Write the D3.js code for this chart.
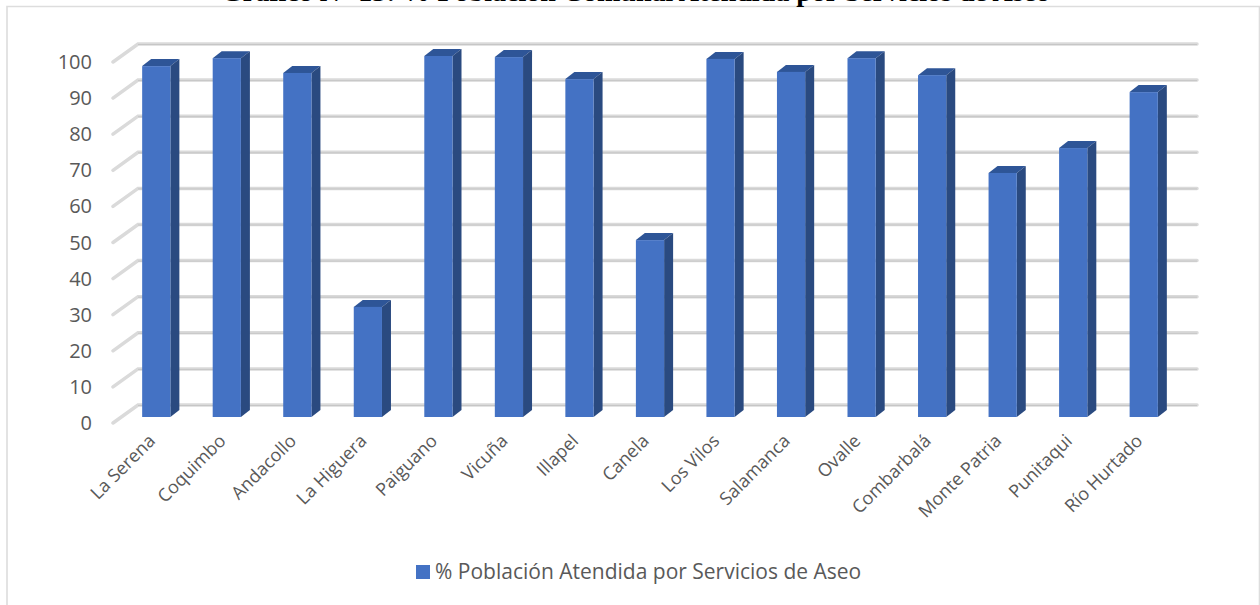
<!DOCTYPE html>
<html lang="es">
<head>
<meta charset="UTF-8">
<style>
html, body { margin: 0; padding: 0; background: #fff; overflow: hidden; }
text { font-family: "Open Sans", "Noto Sans", sans-serif; fill: #595959; }
.grid { stroke: #dadada; stroke-width: 3.5; fill: none; stroke-linecap: round; }
.gridcore { stroke: #c6c6c6; stroke-width: 1; fill: none; }
</style>
<script src="https://cdn.jsdelivr.net/npm/d3@7"></script>
</head>
<body>
<svg id="view" width="1260" height="605"></svg>
<script>
const titleText = "Gráfico N° 15: % Población Comunal Atendida por Servicios de Aseo";
const legendLabel = "% Población Atendida por Servicios de Aseo";
const categories = ["La Serena", "Coquimbo", "Andacollo", "La Higuera", "Paiguano", "Vicuña", "Illapel", "Canela", "Los Vilos", "Salamanca", "Ovalle", "Combarbalá", "Monte Patria", "Punitaqui", "Río Hurtado"];
const values = [97.2, 99.4, 95.3, 30.5, 100, 99.7, 93.6, 49, 99.2, 95.6, 99.4, 94.7, 67.6, 74.5, 90];
const ticks = [0, 10, 20, 30, 40, 50, 60, 70, 80, 90, 100];

const svg = d3.select("#view");

// front plane scales, the back wall is the same thing shifted by depth
const y = d3.scaleLinear().domain([0, 100]).range([423, 62]);
const x = d3.scaleBand().domain(categories).range([113, 1171]).paddingInner(0.6).paddingOuter(0.3);
const wallDx = 25, wallDy = -18;
const barDx = 9, barDy = -7;
const barShift = 8; // bars sit part way into the floor
const barFloor = 417;

// chart frame
svg.append("path").attr("d", "M7 605V6.5H1259.5V605").attr("fill", "none").attr("stroke", "#dddddd").attr("stroke-width", 1.6);

// title, cut by the page top in the original
svg.append("text")
   .attr("x", 1050).attr("y", 0.7)
   .attr("text-anchor", "end")
   .style("font-family", "'Liberation Serif', serif")
   .style("font-weight", "bold")
   .style("font-size", "28px")
   .style("fill", "#000")
   .text(titleText);

// gridlines
const gridPath = d => `M${x.range()[0]} ${y(d)}L${x.range()[0] + wallDx} ${y(d) + wallDy}H1197`;
svg.append("g").selectAll("path").data(ticks).enter().append("path")
   .attr("class", "grid")
   .attr("d", gridPath);
svg.append("g").selectAll("path").data(ticks).enter().append("path")
   .attr("class", "gridcore")
   .attr("d", d => `M${x.range()[0] + wallDx} ${y(d) + wallDy + 0.5}H1197`);

// y labels
svg.append("g").selectAll("text").data(ticks).enter().append("text")
   .attr("x", 92).attr("y", d => y(d) + 7)
   .attr("text-anchor", "end")
   .style("font-size", "20px")
   .text(d => d);

// bars
const bars = svg.append("g").selectAll("g").data(values).enter().append("g");
const barX = (d, i) => x(categories[i]) + barShift;
const barTop = d => barFloor - (y(0) - y(d));
const barW = x.bandwidth();

bars.append("path")
    .attr("fill", "#2e5597")
    .attr("d", (d, i) => `M${barX(d, i)} ${barTop(d)}l${barDx} ${barDy}h${barW}l${-barDx} ${-barDy}z`);
bars.append("path")
    .attr("fill", "#2a4a80")
    .attr("d", (d, i) => `M${barX(d, i) + barW} ${barTop(d)}l${barDx} ${barDy}V${barFloor + barDy}l${-barDx} ${-barDy}z`);
bars.append("rect")
    .attr("fill", "#4472c4")
    .attr("x", barX)
    .attr("y", barTop)
    .attr("width", barW)
    .attr("height", d => barFloor - barTop(d));

// category labels
svg.append("g").selectAll("text").data(categories).enter().append("text")
   .attr("text-anchor", "end")
   .attr("transform", d => `translate(${x(d) + barW / 2 + 8},${442}) rotate(-45)`)
   .style("font-size", "18px")
   .text(d => d);

// legend
svg.append("rect").attr("x", 416).attr("y", 565).attr("width", 14).attr("height", 14).attr("fill", "#4472c4");
svg.append("text").attr("x", 435).attr("y", 579).style("font-size", "21px").text(legendLabel);
</script>
</body>
</html>
